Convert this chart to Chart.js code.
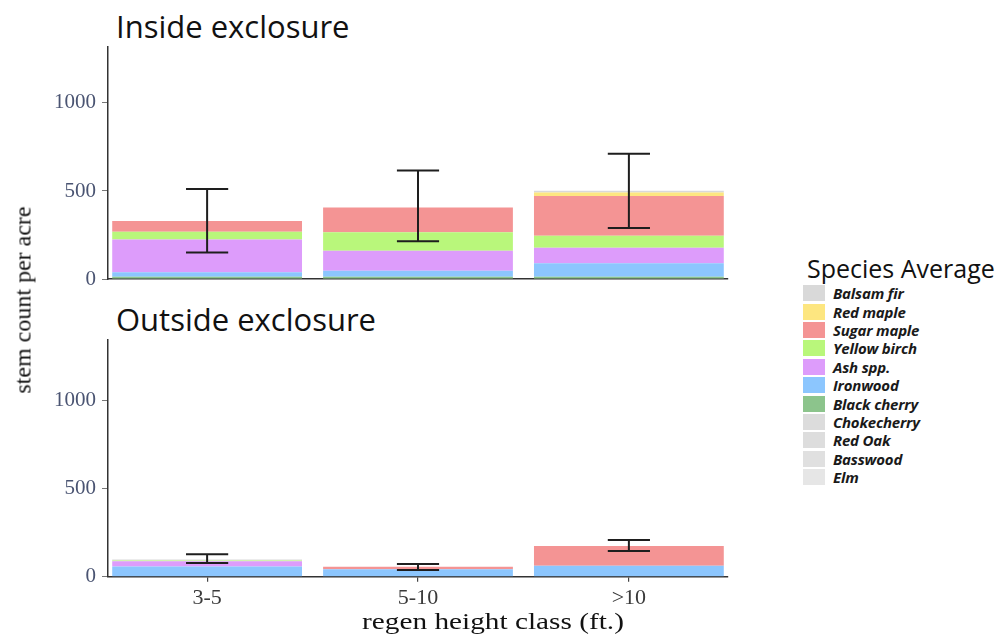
<!DOCTYPE html>
<html><head><meta charset="utf-8">
<script src="https://cdn.jsdelivr.net/npm/chart.js@4.4.1/dist/chart.umd.min.js"></script>
<style>
html,body{margin:0;padding:0;background:#fff;}
body{width:1003px;height:635px;overflow:hidden;position:relative;font-family:"Open Sans",sans-serif;}
.wrap{position:absolute;left:0;width:740px;}
#w1{top:0;height:290px;}
#w2{top:295px;height:340px;}
.ptitle{position:absolute;left:116px;font-size:31px;line-height:31px;color:#111;white-space:nowrap;}
#ytitle{position:absolute;left:23px;top:300px;transform:translate(-50%,-50%) rotate(-90deg);font-family:"Liberation Serif",serif;font-size:24px;color:#111;white-space:nowrap;}
#xtitle{position:absolute;left:493px;top:621px;transform:translate(-50%,-50%) scaleX(1.22);font-family:"Liberation Serif",serif;font-size:24px;color:#111;white-space:nowrap;}
#legend{position:absolute;left:803px;top:257px;}
#legend .lt{font-size:25px;line-height:22px;color:#111;margin-left:4px;white-space:nowrap;margin-bottom:5px;}
#legend .row{display:flex;align-items:center;height:18.4px;}
#legend .sw{width:22px;height:16px;margin-right:8px;}
#legend .lab{font-size:15px;font-style:italic;font-weight:700;color:#1a1a1a;white-space:nowrap;letter-spacing:-0.2px;}
</style>
</head><body>
<div class="ptitle" id="t1" style="top:11px">Inside exclosure</div>
<div class="ptitle" id="t2" style="top:304px">Outside exclosure</div>
<div class="wrap" id="w1"><canvas id="c1" width="740" height="290"></canvas></div>
<div class="wrap" id="w2"><canvas id="c2" width="740" height="340"></canvas></div>
<div id="ytitle">stem count per acre</div>
<div id="xtitle">regen height class (ft.)</div>
<div id="legend"></div>
<script>
// ---- data ----
const categories = ['3-5', '5-10', '>10'];
const catPos = [1, 2, 3];
const tickValues = [0, 500, 1000];
const species = ['Balsam fir','Red maple','Sugar maple','Yellow birch','Ash spp.','Ironwood','Black cherry','Chokecherry','Red Oak','Basswood','Elm'];
const speciesColors = ['#d9d9d9','#fde680','#f49494','#b9f77b','#dd9cfb','#8cc6fe','#8cc48c','#dcdcdc','#dddddd','#e0e0e0','#e6e6e6'];
// stems per acre, one row per species (same order as species), columns = categories
const insideStems = [
  [0, 0, 11],
  [0, 0, 19],
  [62, 140, 226],
  [43, 105, 68],
  [187, 114, 89],
  [25, 34, 76],
  [13, 13, 13],
  [0, 0, 0],
  [0, 0, 0],
  [0, 0, 0],
  [0, 0, 0]
];
const insideErrLow = [151, 214, 290];
const insideErrHigh = [511, 617, 712];
const outsideStems = [
  [6, 0, 0],
  [0, 0, 0],
  [0, 15, 112],
  [5, 0, 0],
  [29, 0, 0],
  [58, 42, 62],
  [0, 0, 0],
  [0, 0, 0],
  [0, 0, 0],
  [0, 0, 0],
  [0, 0, 0]
];
const outsideErrLow = [78, 38, 146];
const outsideErrHigh = [127, 72, 208];

// ---- legend ----
const lg = document.getElementById('legend');
const lt = document.createElement('div'); lt.className = 'lt'; lt.textContent = 'Species Average'; lg.appendChild(lt);
species.forEach((s, i) => {
  const r = document.createElement('div'); r.className = 'row';
  const sw = document.createElement('div'); sw.className = 'sw'; sw.style.background = speciesColors[i];
  const lb = document.createElement('div'); lb.className = 'lab'; lb.textContent = s;
  r.appendChild(sw); r.appendChild(lb); lg.appendChild(r);
});

// ---- error bars ----
const errorBarPlugin = {
  id: 'errbars',
  afterDatasetsDraw(chart, args, opts) {
    const ctx = chart.ctx, x = chart.scales.x, y = chart.scales.y;
    ctx.save();
    ctx.strokeStyle = '#1e1e1e';
    ctx.lineWidth = 2;
    opts.low.forEach((lo, i) => {
      const hi = opts.high[i];
      const px = x.getPixelForValue(catPos[i]);
      const half = x.getPixelForValue(catPos[i] + 0.1) - px;
      const yl = y.getPixelForValue(lo), yh = y.getPixelForValue(hi);
      ctx.beginPath();
      ctx.moveTo(px, yl); ctx.lineTo(px, yh);
      ctx.moveTo(px - half, yl); ctx.lineTo(px + half, yl);
      ctx.moveTo(px - half, yh); ctx.lineTo(px + half, yh);
      ctx.stroke();
    });
    ctx.restore();
  }
};

const serif = "'Liberation Serif', serif";

function makePanel(id, stems, low, high, yMax, showX, pad, xHeight) {
  const datasets = [];
  for (let k = species.length - 1; k >= 0; k--) {
    datasets.push({
      label: species[k],
      data: catPos.map((p, i) => ({ x: p, y: stems[k][i] })),
      backgroundColor: speciesColors[k],
      borderWidth: 0,
      barPercentage: 0.9,
      categoryPercentage: 1.0
    });
  }
  return new Chart(document.getElementById(id), {
    type: 'bar',
    data: { datasets },
    plugins: [errorBarPlugin],
    options: {
      responsive: false,
      animation: false,
      devicePixelRatio: 1,
      layout: { padding: pad },
      plugins: {
        legend: { display: false },
        tooltip: { enabled: false },
        title: { display: false },
        errbars: { low, high }
      },
      scales: {
        x: {
          type: 'linear',
          min: 0.53, max: 3.47,
          offset: false,
          stacked: true,
          afterBuildTicks: s => { s.ticks = catPos.map(v => ({ value: v })); },
          afterFit: s => { s.height = xHeight; s.paddingLeft = 0; s.paddingRight = 0; },
          grid: { display: showX, offset: false, drawOnChartArea: false, tickLength: 5, color: '#444', lineWidth: 1.2 },
          border: { display: true, color: '#333', width: 1.5 },
          ticks: {
            display: showX,
            padding: 3,
            maxRotation: 0,
            autoSkip: false,
            color: '#3a3a3a',
            font: { family: serif, size: 22 },
            callback: (v, i) => categories[i]
          }
        },
        y: {
          min: 0, max: yMax,
          stacked: true,
          afterBuildTicks: s => { s.ticks = tickValues.map(v => ({ value: v })); },
          afterFit: s => { s.width = 108; s.paddingTop = 0; s.paddingBottom = 0; },
          grid: { display: true, drawOnChartArea: false, tickLength: 6, color: '#777', lineWidth: 1 },
          border: { display: true, color: '#333', width: 1.5 },
          ticks: {
            padding: 6,
            color: '#4a5472',
            font: { family: serif, size: 21 },
            callback: v => String(v)
          }
        }
      }
    }
  });
}

makePanel('c1', insideStems, insideErrLow, insideErrHigh, 1318, false, { top: 47, bottom: 11, left: 0, right: 12 }, 0);
makePanel('c2', outsideStems, outsideErrLow, outsideErrHigh, 1345, true, { top: 44.3, bottom: 0, left: 0, right: 12 }, 58.3);
</script>
</body></html>
